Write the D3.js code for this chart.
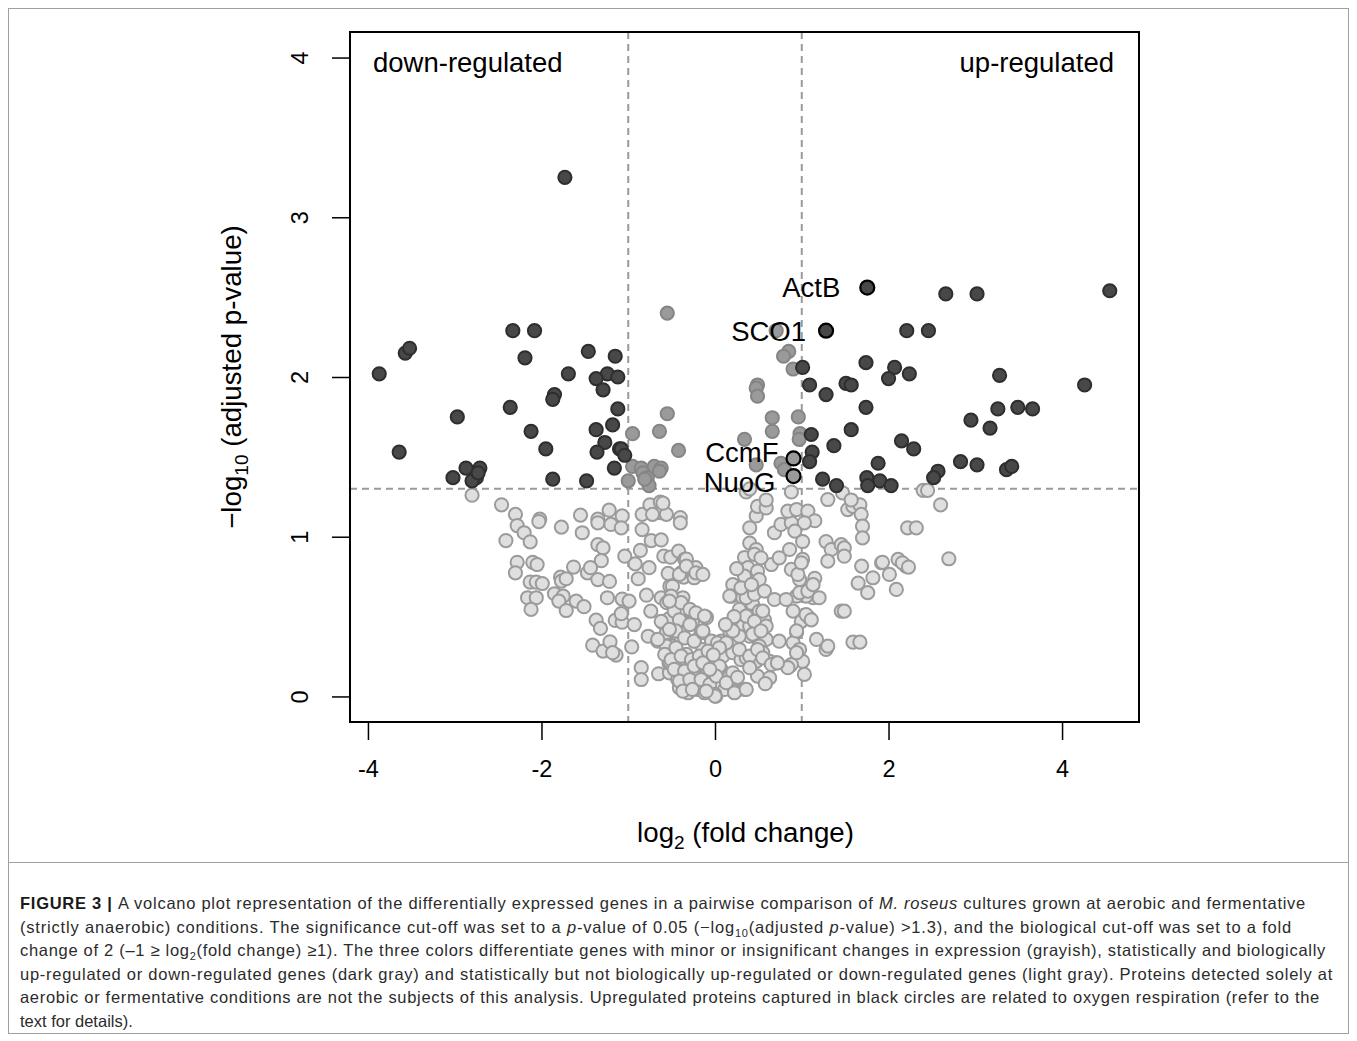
<!DOCTYPE html>
<html>
<head>
<meta charset="utf-8">
<script src="https://cdn.jsdelivr.net/npm/d3@7"></script>
<style>
  body { margin: 0; background: #fff; }
  svg text { font-family: "Liberation Sans", Arial, Helvetica, sans-serif; }
</style>
</head>
<body>
<div id="chart"></div>
<script>
// log2 fold change / -log10 adjusted p, one array of [fc, p] per colour group
const regulated = [
  [-3.87,2.02],[-3.57,2.15],[-3.52,2.18],[-2.33,2.29],[-2.08,2.29],[-2.19,2.12],[-1.46,2.16],[-1.15,2.13],
  [-1.69,2.02],[-1.24,2.02],[-1.37,1.99],[-1.12,2.00],[-1.29,1.92],[-1.85,1.89],[-1.87,1.86],[-2.36,1.81],
  [-1.12,1.80],[-2.97,1.75],[-2.12,1.66],[-1.37,1.67],[-1.18,1.70],[-1.27,1.59],[-1.36,1.53],[-1.10,1.55],
  [-1.95,1.55],[-3.64,1.53],[-3.02,1.37],[-2.87,1.43],[-2.71,1.43],[-2.75,1.37],[-2.80,1.35],[-2.73,1.40],
  [-1.87,1.36],[-1.48,1.35],[-1.16,1.43],[-1.08,1.55],[-1.04,1.51],[-1.73,3.25],
  [1.01,2.06],[1.09,1.95],[1.28,1.89],[1.51,1.96],[1.57,1.95],[1.74,2.09],[1.74,1.81],[1.57,1.67],
  [1.11,1.64],[1.37,1.57],[1.12,1.53],[1.09,1.47],[1.24,1.36],[1.40,1.32],[1.75,1.37],[1.90,1.35],
  [1.88,1.46],[2.66,2.52],[3.02,2.52],[4.55,2.54],[2.21,2.29],[2.46,2.29],[2.07,2.06],[2.00,1.99],
  [2.24,2.02],[3.28,2.01],[4.26,1.95],[3.26,1.80],[3.49,1.81],[3.66,1.80],[2.95,1.73],[3.17,1.68],
  [2.15,1.60],[2.29,1.55],[2.83,1.47],[3.02,1.45],[3.36,1.42],[3.42,1.44],[2.57,1.41],[2.52,1.37],
  [1.76,1.32],[2.03,1.32]
];

const significantOnly = [
  [-0.55,2.40],[-0.95,1.645],[-0.64,1.66],[-0.55,1.77],[-0.42,1.54],[-0.95,1.44],[-0.85,1.43],[-0.83,1.40],
  [-1.00,1.35],[-0.78,1.37],[-0.76,1.32],[-0.70,1.44],[-0.62,1.43],[-0.64,1.41],[-0.81,1.36],
  [0.49,1.95],[0.475,1.93],[0.49,1.88],[0.705,2.29],[0.85,2.16],[0.79,2.13],[0.90,2.05],[0.66,1.745],
  [0.96,1.75],[0.66,1.66],[0.98,1.645],[0.34,1.61],[0.76,1.46],[0.80,1.42],[0.475,1.45],[0.97,1.61]
];

const minorChange = [
  [-2.80,1.26],[-2.46,1.20],[-2.30,1.14],[-2.02,1.11],[-1.55,1.135],[-1.22,1.166],[-1.35,1.11],
  [-2.28,1.07],[-2.20,1.025],[-2.13,0.968],[-2.41,0.976],[-2.03,1.095],[-1.77,1.06],[-1.53,1.025],
  [-1.35,1.087],[-1.20,1.077],[-1.07,1.13],[-1.08,1.056],[-0.84,1.045],[-0.84,1.14],[-0.75,1.20],
  [-0.63,1.216],[-0.62,1.15],[-0.56,1.14],[-0.72,1.14],[-0.40,1.12],[-0.40,1.087],[-1.35,0.95],
  [-1.29,0.93],[-1.31,0.85],[-2.28,0.84],[-2.10,0.84],[-2.05,0.826],[-2.30,0.774],[-2.13,0.716],
  [-2.06,0.716],[-1.99,0.707],[-2.16,0.618],[-2.06,0.618],[-2.12,0.545],[-1.78,0.747],[-1.77,0.722],
  [-1.715,0.737],[-1.85,0.643],[-1.75,0.628],[-1.80,0.597],[-1.715,0.538],[-1.63,0.81],[-1.60,0.597],
  [-1.51,0.562],[-1.47,0.774],[-1.435,0.806],[-1.35,0.732],[-1.216,0.72],[-1.24,0.618],[-1.37,0.478],
  [-1.32,0.426],[-1.41,0.321],[-1.29,0.284],[-1.21,0.342],[-1.14,0.259],[-1.18,0.274],[-1.07,0.61],
  [-0.99,0.597],[-1.15,0.476],[-1.07,0.465],[-1.08,0.518],[-0.93,0.45],[-1.04,0.878],[-0.92,0.83],
  [-0.86,0.914],[-0.76,0.806],[-0.885,0.737],[-0.79,0.634],[-0.74,0.534],[-0.85,0.18],[-0.85,0.106],
  [-0.96,0.31],[-0.77,0.377],[-0.65,0.142],[-0.525,0.148],[-0.53,0.21],[-0.735,0.976],[-0.62,0.98],
  [-0.59,0.878],[-0.51,0.872],[-0.42,0.91],[-0.35,0.858],[-0.54,0.77],[-0.36,0.747],[-0.39,0.774],
  [-0.52,0.69],[-0.62,0.618],[-0.37,0.618],[-0.555,0.587],[-0.60,0.46],[-0.53,0.486],[-0.38,0.40],
  [-0.35,0.44],[-0.66,0.346],[-0.53,0.342],[-0.49,0.315],[-0.41,0.23],[-0.43,0.106],[-0.35,0.054],
  [-0.31,0.023],[-0.455,0.18],[-0.60,1.21],[-0.33,0.86],[-0.22,0.806],[-0.18,0.764],[-0.41,0.764],
  [-0.24,0.743],[-0.47,0.534],[-0.27,0.524],[-0.10,0.496],[-0.37,0.45],[-0.26,0.47],[-0.54,0.40],
  [-0.39,0.40],[-0.24,0.346],[-0.16,0.40],[-0.56,0.315],[-0.45,0.305],[-0.33,0.263],[-0.14,0.294],
  [-0.525,0.22],[-0.26,0.22],[-0.12,0.23],[-0.35,0.138],[-0.24,0.17],[-0.08,0.158],[-0.41,0.054],
  [-0.31,0.075],[-0.20,0.044],[-0.06,0.033],[0.01,0.002],[0.11,0.044],[0.225,0.033],[0.34,0.044],
  [-0.04,0.138],[0.07,0.17],[0.17,0.127],[0.07,0.346],[0.19,0.336],[0.09,0.252],[0.205,0.274],
  [0.30,0.23],[0.17,0.41],[0.32,0.44],[0.40,0.377],[0.28,0.377],[0.205,0.70],[0.19,0.628],[0.32,0.618],
  [0.435,0.576],[0.30,0.534],[0.40,0.503],[0.51,0.534],[0.57,0.48],[0.40,0.44],[0.475,0.377],[0.59,0.357],
  [0.51,0.315],[0.36,0.242],[0.475,0.22],[0.63,0.22],[0.55,0.274],[0.705,0.21],[0.74,0.346],[0.49,0.127],
  [0.63,0.117],[0.86,0.19],[0.34,0.87],[0.38,0.806],[0.49,0.784],[0.34,0.753],[0.51,0.732],[0.65,0.826],
  [0.74,0.868],[0.88,0.795],[0.40,0.96],[0.475,0.92],[0.455,0.89],[0.53,0.868],[0.40,1.056],[0.475,1.13],
  [0.49,1.19],[0.59,1.18],[0.685,1.025],[0.76,1.077],[0.88,1.087],[0.84,1.16],[0.94,1.17],[1.07,1.16],
  [1.15,1.10],[1.03,1.087],[0.88,1.28],[0.92,1.035],[1.01,0.97],[1.01,0.858],[0.86,0.92],[1.15,0.74],
  [1.13,0.618],[1.20,0.618],[1.05,0.628],[0.94,0.628],[0.975,0.732],[0.90,0.534],[0.995,0.47],[0.94,0.40],
  [1.09,0.49],[0.90,0.336],[0.975,0.294],[1.01,0.22],[1.03,0.138],[0.88,0.20],[1.17,0.357],[1.28,0.294],
  [1.30,0.315],[1.455,0.534],[1.49,0.534],[1.59,0.34],[1.67,0.34],[1.28,0.97],[1.34,0.92],[1.455,0.95],
  [1.49,0.93],[1.49,0.878],[1.30,0.847],[1.30,1.233],[1.47,1.275],[1.53,1.17],[1.59,1.19],[1.67,1.20],
  [1.685,1.14],[1.70,1.066],[1.70,0.993],[1.69,0.816],[1.65,0.71],[1.76,0.65],[1.82,0.743],[1.92,0.837],
  [2.01,0.764],[2.09,0.67],[2.11,0.858],[2.20,0.816],[2.22,1.056],[2.60,1.20],[2.32,1.056],[2.695,0.862],
  [1.93,0.84],[2.16,0.837],[2.23,0.81],[2.40,1.29],[2.45,1.29],[0.36,1.28],[0.59,1.23],[1.57,1.23],
  [0.40,1.30],[-0.49,0.69],[-0.33,0.816],[-0.22,0.774],[-0.14,0.764],[-0.505,0.628],[-0.39,0.587],
  [-0.29,0.545],[-0.22,0.524],[-0.10,0.493],[-0.41,0.48],[-0.29,0.45],[-0.62,0.47],[-0.56,0.40],
  [-0.45,0.41],[-0.35,0.367],[-0.24,0.346],[-0.14,0.40],[-0.04,0.346],[0.03,0.336],[-0.58,0.263],
  [-0.505,0.23],[-0.39,0.252],[-0.27,0.23],[-0.18,0.252],[-0.08,0.284],[-0.47,0.17],[-0.35,0.158],
  [-0.24,0.19],[-0.14,0.21],[-0.04,0.158],[0.05,0.19],[-0.41,0.096],[-0.29,0.106],[-0.16,0.106],
  [-0.06,0.075],[-0.37,0.033],[-0.26,0.044],[-0.12,0.023],[0.00,0.013],[0.17,0.628],[0.36,0.618],
  [0.455,0.64],[0.57,0.66],[0.685,0.607],[0.82,0.607],[0.975,0.65],[1.07,0.66],[1.13,0.70],[1.05,0.513],
  [1.11,0.48],[0.28,0.545],[0.36,0.503],[0.455,0.47],[0.55,0.534],[0.59,0.44],[0.205,0.41],[0.435,0.39],
  [0.53,0.41],[0.13,0.336],[0.05,0.305],[0.28,0.294],[0.40,0.252],[0.49,0.294],[0.55,0.242],[0.65,0.20],
  [0.94,0.41],[0.94,0.274],[0.84,0.18],[0.72,0.21],[0.40,0.18],[0.205,0.148],[0.014,0.127],[-0.06,0.17],
  [0.13,0.086],[0.225,0.023],[0.36,0.044],[0.00,0.002],[-0.10,0.033],[-0.12,0.503],[-0.14,0.41],
  [0.955,0.764],[0.995,0.837],[-0.525,0.597],[-0.525,0.42],[-0.66,0.357],
  [0.25,0.80],[0.30,0.68],[0.42,0.70],[0.22,0.50],[0.12,0.45],[-0.02,0.26],[0.26,0.12],[0.58,0.08]
];

const respirationGenes = ["ActB", "SCO1", "CcmF", "NuoG"];
const respirationFC = [1.755, 1.28, 0.905, 0.905];
const respirationP = [2.56, 2.29, 1.49, 1.38];
const respirationGroup = ["regulated", "regulated", "significantOnly", "significantOnly"];

const xTicks = [-4, -2, 0, 2, 4];
const yTicks = [0, 1, 2, 3, 4];
const pCutoff = 1.3;
const fcCutoffs = [-1, 1];

const captionLines = [
  [["FIGURE 3 | ", "b"], ["A volcano plot representation of the differentially expressed genes in a pairwise comparison of ", ""], ["M. roseus", "i"], [" cultures grown at aerobic and fermentative", ""]],
  [["(strictly anaerobic) conditions. The significance cut-off was set to a ", ""], ["p", "i"], ["-value of 0.05 (\u2212log", ""], ["10", "s"], ["(adjusted ", ""], ["p", "i"], ["-value) >1.3), and the biological cut-off was set to a fold", ""]],
  [["change of 2 (\u20131 \u2265 log", ""], ["2", "s"], ["(fold change) \u22651). The three colors differentiate genes with minor or insignificant changes in expression (grayish), statistically and biologically", ""]],
  [["up-regulated or down-regulated genes (dark gray) and statistically but not biologically up-regulated or down-regulated genes (light gray). Proteins detected solely at", ""]],
  [["aerobic or fermentative conditions are not the subjects of this analysis. Upregulated proteins captured in black circles are related to oxygen respiration (refer to the", ""]],
  [["text for details).", ""]]
];
const captionEnds = [1306, 1292, 1326, 1333, 1320, null];

const W = 1357, H = 1041;
const svg = d3.select("#chart").append("svg").attr("width", W).attr("height", H);

// figure frame
svg.append("rect").attr("x", 8.5).attr("y", 8.5).attr("width", W - 17).attr("height", H - 16)
  .attr("fill", "none").attr("stroke", "#a0a0a0").attr("stroke-width", 1);
svg.append("line").attr("x1", 8.5).attr("x2", W - 8.5).attr("y1", 862.5).attr("y2", 862.5)
  .attr("stroke", "#a0a0a0").attr("stroke-width", 1);

const plot = { left: 350, right: 1139, top: 32, bottom: 722 };
const pad = 0.04 * (4.55 + 3.87);
const x = d3.scaleLinear().domain([-3.87 - pad, 4.55 + pad]).range([plot.left, plot.right]);
const y = d3.scaleLinear().domain([-0.16, 4.16]).range([plot.bottom, plot.top]);

// cut-off lines
const dash = "7,5";
svg.selectAll(".vcut").data(fcCutoffs).enter().append("line")
  .attr("x1", d => x(d)).attr("x2", d => x(d)).attr("y1", plot.top).attr("y2", plot.bottom)
  .attr("stroke", "#9a9a9a").attr("stroke-width", 2).attr("stroke-dasharray", dash);
svg.append("line").attr("x1", plot.left).attr("x2", plot.right).attr("y1", y(pCutoff)).attr("y2", y(pCutoff))
  .attr("stroke", "#9a9a9a").attr("stroke-width", 2).attr("stroke-dasharray", dash);

const r = 6.6;
function dots(data, fill, stroke) {
  svg.append("g").selectAll("circle").data(data).enter().append("circle")
    .attr("cx", d => x(d[0])).attr("cy", d => y(d[1])).attr("r", r)
    .attr("fill", fill).attr("stroke", stroke).attr("stroke-width", 2);
}
dots(minorChange, "#dfdfdf", "#9b9b9b");
dots(significantOnly, "#9a9a9a", "#858585");
dots(regulated, "#484848", "#2e2e2e");

// respiration genes in black circles; label nudges in px (gap left of the dot, vertical shift)
const labelGap = [27, 20, 15, 18];
const labelShift = [0, 0, -6, 6];
const fills = { regulated: "#484848", significantOnly: "#9a9a9a" };
respirationGenes.forEach((g, i) => {
  const cx = x(respirationFC[i]), cy = y(respirationP[i]);
  svg.append("circle").attr("cx", cx).attr("cy", cy).attr("r", r + 0.4)
    .attr("fill", fills[respirationGroup[i]]).attr("stroke", "#000").attr("stroke-width", 2.2);
  svg.append("text").attr("x", cx - labelGap[i]).attr("y", cy + labelShift[i]).attr("dy", "0.36em")
    .attr("text-anchor", "end").attr("font-size", 27.5).attr("fill", "#000").text(g);
});

// plot box
svg.append("rect").attr("x", plot.left).attr("y", plot.top)
  .attr("width", plot.right - plot.left).attr("height", plot.bottom - plot.top)
  .attr("fill", "none").attr("stroke", "#000").attr("stroke-width", 2);

// axes
const xAxis = svg.append("g").attr("transform", `translate(0,${plot.bottom})`)
  .call(d3.axisBottom(x).tickValues(xTicks).tickSize(18).tickPadding(20).tickFormat(d => String(d)));
xAxis.select(".domain").remove();
xAxis.selectAll("line").attr("stroke", "#000").attr("stroke-width", 1.5);
xAxis.selectAll("text").attr("font-size", 23.5).attr("fill", "#000")
  .attr("font-family", "'Liberation Sans', Arial, sans-serif");

const yAxis = svg.append("g").attr("transform", `translate(${plot.left},0)`)
  .call(d3.axisLeft(y).tickValues(yTicks).tickSize(18).tickFormat(d => String(d)));
yAxis.select(".domain").remove();
yAxis.selectAll("line").attr("stroke", "#000").attr("stroke-width", 1.5);
yAxis.selectAll("text").remove();
yAxis.selectAll(".tick").append("text")
  .attr("transform", "translate(-50,0) rotate(-90)")
  .attr("text-anchor", "middle").attr("dy", "0.35em")
  .attr("font-size", 23.5).attr("fill", "#000").text(d => d);

// corner labels
svg.append("text").attr("x", 373).attr("y", 72).attr("font-size", 27.5).text("down-regulated");
svg.append("text").attr("x", 1114).attr("y", 72).attr("text-anchor", "end").attr("font-size", 27.5).text("up-regulated");

// axis titles
const xt = svg.append("text").attr("x", (plot.left + plot.right) / 2 + 1).attr("y", 842)
  .attr("text-anchor", "middle").attr("font-size", 27.7);
xt.append("tspan").text("log");
xt.append("tspan").attr("font-size", 19).attr("dy", 7).text("2");
xt.append("tspan").attr("dy", -7).text(" (fold change)");

const yt = svg.append("text").attr("transform", "translate(241,377) rotate(-90)")
  .attr("text-anchor", "middle").attr("font-size", 27.7);
yt.append("tspan").text("\u2212log");
yt.append("tspan").attr("font-size", 19).attr("dy", 7).text("10");
yt.append("tspan").attr("dy", -7).text(" (adjusted p-value)");

// caption
const cap = svg.append("g").attr("font-size", 16.5).attr("fill", "#2b2b2b");
captionLines.forEach((parts, i) => {
  const t = cap.append("text").attr("x", 20).attr("y", 909 + i * 23.6);
  let shifted = false;
  parts.forEach(([s, k]) => {
    const ts = t.append("tspan").text(s);
    if (k === "b") ts.attr("font-weight", "bold").attr("fill", "#1a1a1a");
    if (k === "i") ts.attr("font-style", "italic");
    if (k === "s") { ts.attr("font-size", 11).attr("dy", 4); shifted = true; }
    else if (shifted) { ts.attr("dy", -4); shifted = false; }
  });
  if (captionEnds[i]) {
    const w = t.node().getComputedTextLength();
    const n = parts.map(p => p[0]).join("").length;
    t.attr("letter-spacing", ((captionEnds[i] - 20) - w) / n);
  }
});
</script>
</body>
</html>
